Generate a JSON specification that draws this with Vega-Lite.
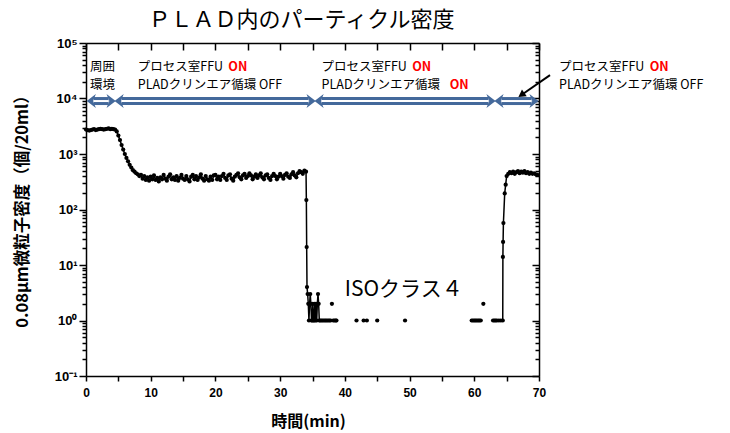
{
  "$schema": "https://vega.github.io/schema/vega-lite/v6.json",
  "width": 453,
  "height": 333,
  "autosize": {"type": "none"},
  "padding": {"left": 86, "top": 43, "right": 191, "bottom": 57},
  "background": "white",
  "title": {"text": "ＰＬＡＤ内のパーティクル密度", "font": "Noto Sans CJK JP", "fontSize": 22, "fontWeight": "normal", "color": "black", "anchor": "middle", "offset": 5, "dx": -11},
  "config": {
    "view": {"stroke": null},
    "axis": {"grid": false, "domainColor": "black", "domainWidth": 1.5, "tickColor": "black", "tickWidth": 1.5, "labelColor": "black", "labelFont": "Liberation Sans", "labelFontSize": 12, "labelFontWeight": "bold", "titleColor": "black", "labelOverlap": false, "labelBound": false, "labelFlush": false}
  },
  "datasets": {
    "series": [
      {"t":0,"v":2750,"g":1},{"t":0.25,"v":2700,"g":1},{"t":0.5,"v":2650,"g":1},{"t":0.75,"v":2700,"g":1},{"t":1,"v":2750,"g":1},{"t":1.25,"v":2800,"g":1},{"t":1.5,"v":2700,"g":1},{"t":1.75,"v":2750,"g":1},{"t":2,"v":2800,"g":1},{"t":2.25,"v":2850,"g":1},{"t":2.5,"v":2800,"g":1},{"t":2.75,"v":2750,"g":1},{"t":3,"v":2800,"g":1},{"t":3.25,"v":2850,"g":1},{"t":3.5,"v":2900,"g":1},{"t":3.75,"v":2800,"g":1},{"t":4,"v":2850,"g":1},{"t":4.25,"v":2800,"g":1},{"t":4.5,"v":2750,"g":1},{"t":4.75,"v":2550,"g":1},
      {"t":5,"v":2150,"g":1},{"t":5.25,"v":1780,"g":1},{"t":5.5,"v":1450,"g":1},{"t":5.75,"v":1200,"g":1},{"t":6,"v":1000,"g":1},{"t":6.25,"v":850,"g":1},{"t":6.5,"v":740,"g":1},{"t":6.75,"v":640,"g":1},{"t":7,"v":570,"g":1},{"t":7.25,"v":510,"g":1},{"t":7.5,"v":480,"g":1},{"t":7.75,"v":450,"g":1},{"t":8,"v":430,"g":1},{"t":8.25,"v":400,"g":1},
      {"t":8.5,"v":420,"g":1},{"t":8.75,"v":360,"g":1},{"t":9,"v":400,"g":1},{"t":9.25,"v":340,"g":1},{"t":9.5,"v":380,"g":1},{"t":9.75,"v":330,"g":1},{"t":10,"v":390,"g":1},{"t":10.25,"v":350,"g":1},{"t":10.5,"v":410,"g":1},{"t":10.75,"v":340,"g":1},{"t":11,"v":370,"g":1},{"t":11.25,"v":320,"g":1},{"t":11.5,"v":380,"g":1},{"t":11.75,"v":350,"g":1},{"t":12,"v":420,"g":1},{"t":12.25,"v":360,"g":1},{"t":12.5,"v":330,"g":1},{"t":12.75,"v":390,"g":1},{"t":13,"v":430,"g":1},{"t":13.25,"v":350,"g":1},{"t":13.5,"v":380,"g":1},{"t":13.75,"v":340,"g":1},{"t":14,"v":400,"g":1},{"t":14.25,"v":330,"g":1},{"t":14.5,"v":370,"g":1},{"t":14.75,"v":420,"g":1},{"t":15,"v":360,"g":1},{"t":15.25,"v":340,"g":1},{"t":15.5,"v":400,"g":1},{"t":15.75,"v":350,"g":1},{"t":16,"v":320,"g":1},{"t":16.25,"v":390,"g":1},{"t":16.5,"v":420,"g":1},{"t":16.75,"v":350,"g":1},{"t":17,"v":400,"g":1},{"t":17.25,"v":340,"g":1},{"t":17.5,"v":380,"g":1},{"t":17.75,"v":430,"g":1},{"t":18,"v":360,"g":1},{"t":18.25,"v":330,"g":1},{"t":18.5,"v":400,"g":1},{"t":18.75,"v":350,"g":1},{"t":19,"v":330,"g":1},{"t":19.25,"v":390,"g":1},{"t":19.5,"v":340,"g":1},{"t":19.75,"v":410,"g":1},{"t":20,"v":420,"g":1},{"t":20.25,"v":350,"g":1},{"t":20.5,"v":390,"g":1},{"t":20.75,"v":340,"g":1},{"t":21,"v":400,"g":1},{"t":21.25,"v":440,"g":1},{"t":21.5,"v":370,"g":1},{"t":21.75,"v":340,"g":1},{"t":22,"v":410,"g":1},{"t":22.25,"v":430,"g":1},{"t":22.5,"v":360,"g":1},{"t":22.75,"v":330,"g":1},{"t":23,"v":390,"g":1},{"t":23.25,"v":420,"g":1},{"t":23.5,"v":450,"g":1},{"t":23.75,"v":380,"g":1},{"t":24,"v":350,"g":1},{"t":24.25,"v":410,"g":1},{"t":24.5,"v":440,"g":1},{"t":24.75,"v":370,"g":1},{"t":25,"v":400,"g":1},{"t":25.25,"v":450,"g":1},{"t":25.5,"v":410,"g":1},{"t":25.75,"v":350,"g":1},{"t":26,"v":390,"g":1},{"t":26.25,"v":430,"g":1},{"t":26.5,"v":370,"g":1},{"t":26.75,"v":410,"g":1},{"t":27,"v":450,"g":1},{"t":27.25,"v":380,"g":1},{"t":27.5,"v":350,"g":1},{"t":27.75,"v":410,"g":1},{"t":28,"v":430,"g":1},{"t":28.25,"v":370,"g":1},{"t":28.5,"v":340,"g":1},{"t":28.75,"v":400,"g":1},{"t":29,"v":440,"g":1},{"t":29.25,"v":400,"g":1},{"t":29.5,"v":350,"g":1},{"t":29.75,"v":390,"g":1},{"t":30,"v":440,"g":1},{"t":30.25,"v":400,"g":1},{"t":30.5,"v":360,"g":1},{"t":30.75,"v":420,"g":1},{"t":31,"v":450,"g":1},{"t":31.25,"v":390,"g":1},{"t":31.5,"v":370,"g":1},{"t":31.75,"v":430,"g":1},{"t":32,"v":470,"g":1},{"t":32.25,"v":410,"g":1},{"t":32.5,"v":380,"g":1},{"t":32.75,"v":450,"g":1},{"t":33,"v":490,"g":1},{"t":33.25,"v":470,"g":1},{"t":33.5,"v":440,"g":1},{"t":33.75,"v":500,"g":1},{"t":34,"v":480,"g":1},
      {"t":34.05,"v":148,"g":1},{"t":34.1,"v":21,"g":1},{"t":34.15,"v":4,"g":1},{"t":34.25,"v":3,"g":1},{"t":34.35,"v":2,"g":1},{"t":34.45,"v":1,"g":1},{"t":34.55,"v":2,"g":1},{"t":34.65,"v":3,"g":1},{"t":34.75,"v":2,"g":1},{"t":34.85,"v":1,"g":1},{"t":34.95,"v":1,"g":1},{"t":35.05,"v":2,"g":1},{"t":35.15,"v":1,"g":1},{"t":35.25,"v":1,"g":1},{"t":35.35,"v":2,"g":1},{"t":35.45,"v":1,"g":1},{"t":35.55,"v":2,"g":1},{"t":35.65,"v":1,"g":1},{"t":35.75,"v":2,"g":1},{"t":35.85,"v":3,"g":1},{"t":35.95,"v":2,"g":1},{"t":36.05,"v":1,"g":1},{"t":36.2,"v":1,"g":1},{"t":36.4,"v":1,"g":1},{"t":36.6,"v":1,"g":1},{"t":36.8,"v":1,"g":1},{"t":37,"v":1,"g":1},{"t":37.2,"v":1,"g":1},{"t":37.4,"v":1,"g":1},{"t":37.6,"v":1,"g":1},{"t":37.8,"v":1,"g":1},
      {"t":38,"v":2,"g":2},
      {"t":38.2,"v":1,"g":3},{"t":38.4,"v":1,"g":3},{"t":38.6,"v":1,"g":3},{"t":38.7,"v":1,"g":3},
      {"t":41.8,"v":1,"g":4},{"t":42.9,"v":1,"g":5},{"t":43.4,"v":1,"g":6},{"t":45,"v":1,"g":7},{"t":49.3,"v":1,"g":8},
      {"t":59.6,"v":1,"g":9},{"t":59.8,"v":1,"g":9},{"t":60,"v":1,"g":9},{"t":60.2,"v":1,"g":9},{"t":60.4,"v":1,"g":9},{"t":60.6,"v":1,"g":9},{"t":60.8,"v":1,"g":9},{"t":61,"v":1,"g":9},
      {"t":61.4,"v":2,"g":10},
      {"t":62.9,"v":1,"g":11},{"t":63.1,"v":1,"g":11},{"t":63.3,"v":1,"g":11},{"t":63.5,"v":1,"g":11},{"t":63.8,"v":1,"g":11},{"t":64.1,"v":1,"g":11},{"t":64.4,"v":1,"g":11},{"t":64.42,"v":14,"g":11},{"t":64.45,"v":26,"g":11},{"t":64.5,"v":57,"g":11},{"t":64.7,"v":195,"g":11},{"t":64.85,"v":280,"g":11},{"t":65,"v":400,"g":11},{"t":65.25,"v":440,"g":11},{"t":65.5,"v":470,"g":11},{"t":65.75,"v":450,"g":11},{"t":66,"v":480,"g":11},{"t":66.25,"v":440,"g":11},{"t":66.5,"v":470,"g":11},{"t":66.75,"v":490,"g":11},{"t":67,"v":450,"g":11},{"t":67.25,"v":480,"g":11},{"t":67.5,"v":460,"g":11},{"t":67.75,"v":490,"g":11},{"t":68,"v":450,"g":11},{"t":68.25,"v":470,"g":11},{"t":68.5,"v":440,"g":11},{"t":68.75,"v":460,"g":11},{"t":69,"v":440,"g":11},{"t":69.25,"v":450,"g":11},{"t":69.5,"v":430,"g":11},{"t":69.75,"v":420,"g":11}
    ],
    "arrows": [
      {"xa":1.2,"xb":3.5,"y":9000},{"xa":5.5,"xb":34.4,"y":9000},{"xa":36.4,"xb":62.2,"y":9000},{"xa":64.2,"xb":68.85,"y":9000}
    ],
    "heads": [
      {"x":1.2,"y":9000,"dir":"L"},{"x":3.5,"y":9000,"dir":"R"},{"x":5.5,"y":9000,"dir":"L"},{"x":34.4,"y":9000,"dir":"R"},{"x":36.4,"y":9000,"dir":"L"},{"x":62.2,"y":9000,"dir":"R"},{"x":64.2,"y":9000,"dir":"L"},{"x":68.85,"y":9000,"dir":"R"}
    ],
    "pointer": [{"xa":71.7,"ya":26300,"xb":67.28,"yb":11560}],
    "labels": [
      {"x":0.6,"y":37200,"text":"周囲","k":"n"},
      {"x":0.6,"y":17700,"text":"環境","k":"n"},
      {"x":8.0,"y":37200,"text":"プロセス室FFU","k":"n"},
      {"x":22.0,"y":37200,"text":"ON","k":"r"},
      {"x":8.0,"y":17700,"text":"PLADクリンエア循環 OFF","k":"n"},
      {"x":36.4,"y":37200,"text":"プロセス室FFU","k":"n"},
      {"x":50.4,"y":37200,"text":"ON","k":"r"},
      {"x":36.4,"y":17700,"text":"PLADクリンエア循環","k":"n"},
      {"x":56.2,"y":17700,"text":"ON","k":"r"},
      {"x":73.1,"y":37200,"text":"プロセス室FFU","k":"n"},
      {"x":87.1,"y":37200,"text":"ON","k":"r"},
      {"x":73.1,"y":17700,"text":"PLADクリンエア循環 OFF","k":"n"},
      {"x":40.0,"y":3.5,"text":"ISOクラス４","k":"big"}
    ]
  },
  "layer": [
    {
      "data": {"name": "series"},
      "mark": {"type": "line", "color": "black", "strokeWidth": 1.5},
      "encoding": {
        "x": {"field": "t", "type": "quantitative", "scale": {"domain": [0, 70], "nice": false, "zero": false},
              "axis": {"orient": "bottom", "title": "時間(min)", "titleFont": "Noto Sans CJK JP", "titleFontSize": 16, "titleFontWeight": "bold", "titleX": 222, "titleY": 45, "titleBaseline": "middle", "titleAlign": "center",
                       "values": [0,5,10,15,20,25,30,35,40,45,50,55,60,65,70], "labelExpr": "datum.value % 10 == 0 ? datum.label : ''", "tickSize": 5, "labelPadding": 6}},
        "y": {"field": "v", "type": "quantitative", "scale": {"type": "log", "domain": [0.1, 100000], "nice": false},
              "axis": {"orient": "left", "title": "0.08μm微粒子密度（個/20ml）", "titleFont": "Noto Sans CJK JP", "titleFontSize": 16.5, "titleFontWeight": "bold", "titleX": -64, "titleY": 164, "titleAngle": 270, "titleAlign": "center", "titleBaseline": "middle",
                       "values": [0.1,0.2,0.3,0.4,0.5,0.6,0.7,0.8,0.9,1,2,3,4,5,6,7,8,9,10,20,30,40,50,60,70,80,90,100,200,300,400,500,600,700,800,900,1000,2000,3000,4000,5000,6000,7000,8000,9000,10000,20000,30000,40000,50000,60000,70000,80000,90000,100000],
                       "labelExpr": "datum.value==0.1?'10⁻¹':datum.value==1?'10⁰':datum.value==10?'10¹':datum.value==100?'10²':datum.value==1000?'10³':datum.value==10000?'10⁴':datum.value==100000?'10⁵':''",
                       "labelFontSize": 13, "labelPadding": 2,
                       "tickSize": {"condition": {"test": "datum.value==0.1||datum.value==1||datum.value==10||datum.value==100||datum.value==1000||datum.value==10000||datum.value==100000", "value": 7}, "value": 4}}},
        "detail": {"field": "g", "type": "nominal"}
      }
    },
    {
      "data": {"name": "series"},
      "mark": {"type": "circle", "color": "black", "opacity": 1, "size": 18},
      "encoding": {
        "x": {"field": "t", "type": "quantitative", "scale": {"domain": [0, 70], "nice": false, "zero": false}, "axis": null},
        "y": {"field": "v", "type": "quantitative", "scale": {"type": "log", "domain": [0.1, 100000], "nice": false}, "axis": null}
      }
    },
    {
      "data": {"name": "arrows"},
      "mark": {"type": "rule", "color": "#44699b", "strokeWidth": 8, "strokeCap": "butt"},
      "encoding": {
        "x": {"field": "xa", "type": "quantitative", "scale": {"domain": [0, 70], "nice": false, "zero": false},
              "axis": {"orient": "top", "title": null, "labels": false, "values": [0,5,10,15,20,25,30,35,40,45,50,55,60,65,70], "tickSize": -7}},
        "x2": {"field": "xb"},
        "y": {"field": "y", "type": "quantitative", "scale": {"type": "log", "domain": [0.1, 100000], "nice": false},
              "axis": {"orient": "right", "title": null, "labels": false,
                       "values": [0.1,0.2,0.3,0.4,0.5,0.6,0.7,0.8,0.9,1,2,3,4,5,6,7,8,9,10,20,30,40,50,60,70,80,90,100,200,300,400,500,600,700,800,900,1000,2000,3000,4000,5000,6000,7000,8000,9000,10000,20000,30000,40000,50000,60000,70000,80000,90000,100000],
                       "tickSize": {"condition": {"test": "datum.value==0.1||datum.value==1||datum.value==10||datum.value==100||datum.value==1000||datum.value==10000||datum.value==100000", "value": -7}, "value": -4}}}
      }
    },
    {
      "data": {"name": "heads"},
      "mark": {"type": "point", "filled": true, "color": "#44699b", "opacity": 1, "size": 200},
      "encoding": {
        "x": {"field": "x", "type": "quantitative", "scale": {"domain": [0, 70], "nice": false, "zero": false}, "axis": null},
        "y": {"field": "y", "type": "quantitative", "scale": {"type": "log", "domain": [0.1, 100000], "nice": false}, "axis": null},
        "shape": {"field": "dir", "type": "nominal", "scale": {"domain": ["L", "R"], "range": ["M-1,0L0.3,-1L-0.1,0L0.3,1Z", "M1,0L-0.3,-1L0.1,0L-0.3,1Z"]}, "legend": null}
      }
    },
    {
      "data": {"name": "arrows"},
      "mark": {"type": "rule", "color": "white", "strokeWidth": 2, "strokeCap": "butt"},
      "encoding": {
        "x": {"field": "xa", "type": "quantitative", "scale": {"domain": [0, 70], "nice": false, "zero": false}, "axis": null},
        "x2": {"field": "xb"},
        "y": {"field": "y", "type": "quantitative", "scale": {"type": "log", "domain": [0.1, 100000], "nice": false}, "axis": null}
      }
    },
    {
      "data": {"name": "pointer"},
      "mark": {"type": "rule", "color": "black", "strokeWidth": 2},
      "encoding": {
        "x": {"field": "xa", "type": "quantitative", "scale": {"domain": [0, 70], "nice": false, "zero": false}, "axis": null},
        "y": {"field": "ya", "type": "quantitative", "scale": {"type": "log", "domain": [0.1, 100000], "nice": false}, "axis": null},
        "x2": {"field": "xb"},
        "y2": {"field": "yb"}
      }
    },
    {
      "data": {"name": "pointer"},
      "mark": {"type": "point", "shape": "triangle-up", "filled": true, "color": "black", "opacity": 1, "size": 70, "angle": 235},
      "encoding": {
        "x": {"field": "xb", "type": "quantitative", "scale": {"domain": [0, 70], "nice": false, "zero": false}, "axis": null},
        "y": {"field": "yb", "type": "quantitative", "scale": {"type": "log", "domain": [0.1, 100000], "nice": false}, "axis": null}
      }
    },
    {
      "data": {"name": "labels"},
      "transform": [{"filter": "datum.k == 'n'"}],
      "mark": {"type": "text", "align": "left", "baseline": "middle", "font": "Noto Sans CJK JP", "fontSize": 12.5, "color": "black"},
      "encoding": {
        "x": {"field": "x", "type": "quantitative", "scale": {"domain": [0, 70], "nice": false, "zero": false}, "axis": null},
        "y": {"field": "y", "type": "quantitative", "scale": {"type": "log", "domain": [0.1, 100000], "nice": false}, "axis": null},
        "text": {"field": "text"}
      }
    },
    {
      "data": {"name": "labels"},
      "transform": [{"filter": "datum.k == 'r'"}],
      "mark": {"type": "text", "align": "left", "baseline": "middle", "font": "Noto Sans CJK JP", "fontSize": 12.5, "fontWeight": "bold", "color": "#ff0000"},
      "encoding": {
        "x": {"field": "x", "type": "quantitative", "scale": {"domain": [0, 70], "nice": false, "zero": false}, "axis": null},
        "y": {"field": "y", "type": "quantitative", "scale": {"type": "log", "domain": [0.1, 100000], "nice": false}, "axis": null},
        "text": {"field": "text"}
      }
    },
    {
      "data": {"name": "labels"},
      "transform": [{"filter": "datum.k == 'big'"}],
      "mark": {"type": "text", "align": "left", "baseline": "middle", "font": "Noto Sans CJK JP", "fontSize": 21, "color": "black"},
      "encoding": {
        "x": {"field": "x", "type": "quantitative", "scale": {"domain": [0, 70], "nice": false, "zero": false}, "axis": null},
        "y": {"field": "y", "type": "quantitative", "scale": {"type": "log", "domain": [0.1, 100000], "nice": false}, "axis": null},
        "text": {"field": "text"}
      }
    }
  ],
  "resolve": {"axis": {"x": "independent", "y": "independent"}}
}
